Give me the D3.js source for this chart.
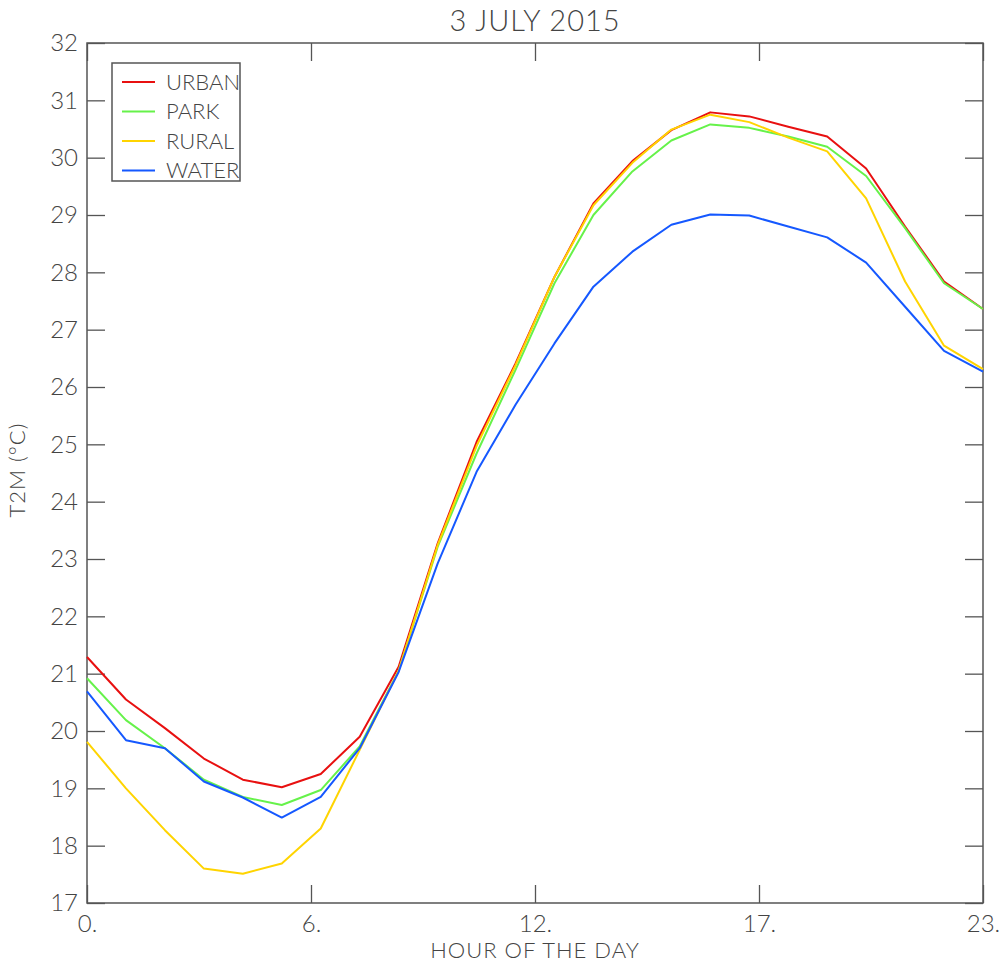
<!DOCTYPE html>
<html>
<head>
<meta charset="utf-8">
<script src="https://cdn.jsdelivr.net/npm/d3@7"></script>
<style>
  body { margin: 0; background: #fff; }
  text { font-family: Lato, "DejaVu Sans", sans-serif; font-weight: 300; fill: #444; }
</style>
</head>
<body>
<div id="chart"></div>
<script>
const hours = [0, 1, 2, 3, 4, 5, 6, 7, 8, 9, 10, 11, 12, 13, 14, 15, 16, 17, 18, 19, 20, 21, 22, 23];
const urban = [21.29, 20.55, 20.05, 19.52, 19.15, 19.02, 19.25, 19.9, 21.12, 23.27, 25.04, 26.41, 27.92, 29.2, 29.94, 30.48, 30.79, 30.72, 30.54, 30.37, 29.81, 28.8, 27.84, 27.36];
const park = [20.92, 20.19, 19.7, 19.15, 18.85, 18.71, 18.97, 19.73, 21.05, 23.21, 24.84, 26.3, 27.81, 29.0, 29.76, 30.3, 30.58, 30.52, 30.37, 30.19, 29.68, 28.77, 27.81, 27.36];
const rural = [19.81, 19.0, 18.27, 17.6, 17.51, 17.69, 18.3, 19.67, 21.05, 23.24, 24.97, 26.38, 27.92, 29.17, 29.91, 30.49, 30.75, 30.62, 30.35, 30.11, 29.29, 27.84, 26.72, 26.31];
const water = [20.69, 19.84, 19.7, 19.12, 18.84, 18.49, 18.85, 19.7, 21.03, 22.92, 24.52, 25.69, 26.76, 27.75, 28.36, 28.83, 29.01, 28.99, 28.8, 28.61, 28.17, 27.4, 26.63, 26.27];

const seriesNames = ["URBAN", "PARK", "RURAL", "WATER"];
const seriesColors = ["#e81010", "#66f24a", "#ffd400", "#1558ff"];
const xTicks = [0, 5.75, 11.5, 17.25, 23];
const yTicks = [17, 18, 19, 20, 21, 22, 23, 24, 25, 26, 27, 28, 29, 30, 31, 32];

const series = [urban, park, rural, water];

const margin = { top: 43, right: 18, bottom: 60, left: 87 },
  width = 1001 - margin.left - margin.right,
  height = 963 - margin.top - margin.bottom;

const svg = d3
  .select("#chart")
  .append("svg")
  .attr("width", 1001)
  .attr("height", 963)
  .append("g")
  .attr("transform", `translate(${margin.left},${margin.top})`);

const x = d3.scaleLinear().domain([0, 23]).range([0, width]);
const y = d3.scaleLinear().domain([17, 32]).range([height, 0]);

const tickLen = 18;
const fmtX = (d) => Math.round(d) + ".";

function styleAxis(g) {
  g.select(".domain").remove();
  g.selectAll(".tick line").attr("stroke", "#555").attr("stroke-width", 1.3);
  g.selectAll(".tick text").attr("fill", "#444").style("font-size", "24px");
}

// bottom axis
svg
  .append("g")
  .attr("transform", `translate(0,${height})`)
  .call(d3.axisBottom(x).tickValues(xTicks).tickFormat(fmtX).tickSizeInner(-tickLen).tickSizeOuter(0).tickPadding(12))
  .call(styleAxis);

// top axis (ticks only)
svg
  .append("g")
  .call(d3.axisTop(x).tickValues(xTicks).tickFormat("").tickSizeInner(-tickLen).tickSizeOuter(0))
  .call(styleAxis);

// left axis
svg
  .append("g")
  .call(d3.axisLeft(y).tickValues(yTicks).tickFormat(d3.format("d")).tickSizeInner(-tickLen).tickSizeOuter(0).tickPadding(9))
  .call(styleAxis);

// right axis (ticks only)
svg
  .append("g")
  .attr("transform", `translate(${width},0)`)
  .call(d3.axisRight(y).tickValues(yTicks).tickFormat("").tickSizeInner(-tickLen).tickSizeOuter(0))
  .call(styleAxis);

// frame
svg
  .append("rect")
  .attr("x", 0)
  .attr("y", 0)
  .attr("width", width)
  .attr("height", height)
  .attr("fill", "none")
  .attr("stroke", "#555")
  .attr("stroke-width", 1.5);

const line = d3
  .line()
  .x((d, i) => x(hours[i]))
  .y((d) => y(d));

svg
  .selectAll(".series")
  .data(series)
  .join("path")
  .attr("class", "series")
  .attr("fill", "none")
  .attr("stroke", (d, i) => seriesColors[i])
  .attr("stroke-width", 2)
  .attr("stroke-linejoin", "round")
  .attr("d", line);

// title
svg
  .append("text")
  .attr("text-anchor", "middle")
  .attr("x", width / 2)
  .attr("y", -12)
  .style("font-size", "29px")
  .style("letter-spacing", "1px")
  .text("3 JULY 2015");

// x label
svg
  .append("text")
  .attr("text-anchor", "middle")
  .attr("x", width / 2)
  .attr("y", height + 55)
  .style("font-size", "22px")
  .style("letter-spacing", "1px")
  .text("HOUR OF THE DAY");

// y label
svg
  .append("text")
  .attr("text-anchor", "middle")
  .attr("transform", `translate(${-62},${427}) rotate(-90)`)
  .style("font-size", "22px")
  .style("letter-spacing", "1px")
  .text("T2M (°C)");

// legend
const legend = svg.append("g").attr("transform", "translate(25,20)");
legend
  .append("rect")
  .attr("width", 128)
  .attr("height", 118)
  .attr("fill", "#fff")
  .attr("stroke", "#555")
  .attr("stroke-width", 1.5);

const items = legend
  .selectAll(".item")
  .data(seriesNames)
  .join("g")
  .attr("class", "item")
  .attr("transform", (d, i) => `translate(0,${19 + i * 29.5})`);

items
  .append("line")
  .attr("x1", 10)
  .attr("x2", 43)
  .attr("stroke", (d, i) => seriesColors[i])
  .attr("stroke-width", 2);

items
  .append("text")
  .attr("x", 54)
  .attr("dy", "0.36em")
  .style("font-size", "22px")
  .text((d) => d);
</script>
</body>
</html>
